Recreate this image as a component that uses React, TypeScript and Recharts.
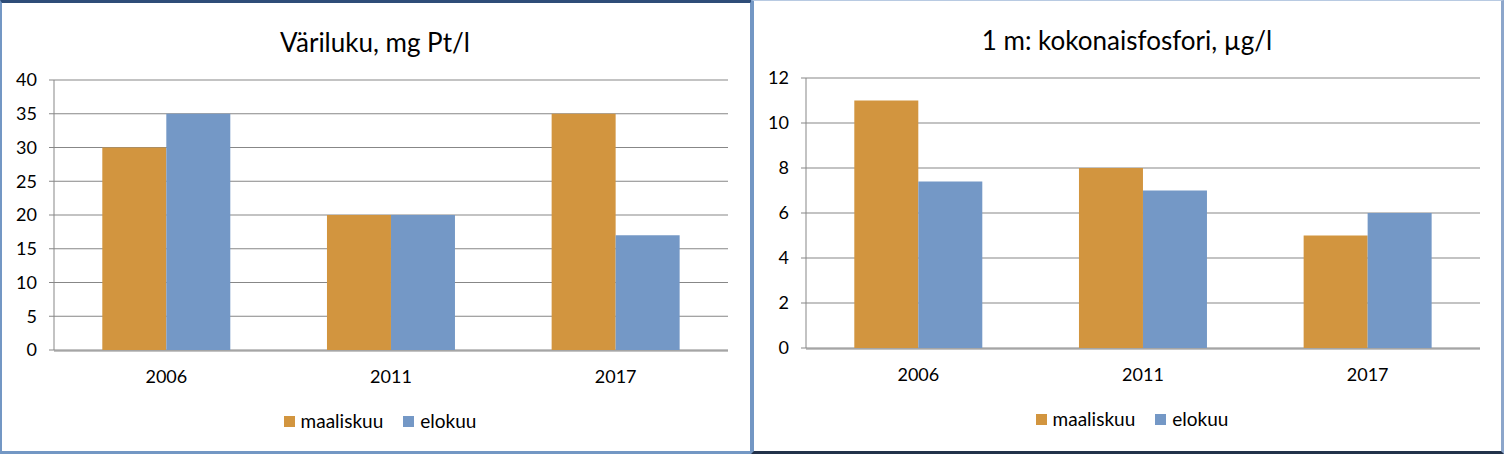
import React from 'react';
import { BarChart, Bar, XAxis, YAxis, CartesianGrid, Legend } from 'recharts';

const categories = ['2006', '2011', '2017'];
const seriesNames = ['maaliskuu', 'elokuu'];
const variMaaliskuu = [30, 20, 35];
const variElokuu = [35, 20, 17];
const variTicks = [0, 5, 10, 15, 20, 25, 30, 35, 40];
const fosMaaliskuu = [11, 8, 5];
const fosElokuu = [7.4, 7, 6];
const fosTicks = [0, 2, 4, 6, 8, 10, 12];
const boundaryTicks = [0, 1, 2, 3];

const ORANGE = '#D2953F';
const BLUE = '#7498C6';
const GRID = '#878787';
const FONT = 'Lato, "Open Sans", sans-serif';

const renderLegend = (props: any) => {
  const items = [...(props.payload || [])].sort(
    (a: any, b: any) => seriesNames.indexOf(a.value) - seriesNames.indexOf(b.value)
  );
  return (
    <div
      style={{
        display: 'flex',
        justifyContent: 'center',
        alignItems: 'center',
        fontFamily: FONT,
        fontSize: 19,
        color: '#000',
        lineHeight: '24px',
      }}
    >
      {items.map((p: any, i: number) => (
        <span key={i} style={{ display: 'inline-flex', alignItems: 'center', marginLeft: i ? 20 : 0 }}>
          <span style={{ width: 11, height: 11, background: p.color, marginRight: 6, display: 'inline-block' }} />
          {p.value}
        </span>
      ))}
    </div>
  );
};

function Panel(props: {
  title: string;
  m: number[];
  e: number[];
  ticks: number[];
  top: number;
  left: number;
}) {
  const { title, m, e, ticks, top, left } = props;
  const data = categories.map((c, i) => ({ year: c, m: m[i], e: e[i] }));
  const max = ticks[ticks.length - 1];
  return (
    <div style={{ position: 'absolute', left, top: 0, width: 750, height: 454 }}>
      <div
        style={{
          position: 'absolute',
          left: 0,
          width: 750,
          top: top - 56,
          textAlign: 'center',
          fontFamily: FONT,
          fontSize: 26,
          lineHeight: '36px',
          color: '#000',
        }}
      >
        {title}
      </div>
      <BarChart
        width={750}
        height={454}
        data={data}
        margin={{ top, right: 22, bottom: 454 - top - 270 - 2, left: 14 }}
        barCategoryGap="21.5%"
        barGap={0}
      >
        <CartesianGrid horizontal vertical={false} stroke={GRID} strokeWidth={1} />
        <XAxis
          xAxisId="b"
          type="number"
          domain={[0, 3]}
          ticks={boundaryTicks}
          tick={false}
          tickSize={7}
          height={1}
          axisLine={{ stroke: GRID }}
          tickLine={{ stroke: GRID }}
          allowDataOverflow
        />
        <XAxis
          dataKey="year"
          height={1}
          axisLine={false}
          tickLine={false}
          tickSize={0}
          tickMargin={20}
          tick={{ fill: '#000', fontSize: 18, fontFamily: FONT }}
        />
        <YAxis
          width={40}
          domain={[0, max]}
          ticks={ticks}
          tickSize={5}
          tickMargin={12}
          axisLine={{ stroke: GRID }}
          tickLine={{ stroke: GRID }}
          tick={{ fill: '#000', fontSize: 18, fontFamily: FONT }}
          interval={0}
        />
        <Legend
          verticalAlign="middle"
          align="center"
          layout="horizontal"
          content={renderLegend}
          wrapperStyle={{ top: top + 329, left: 0, width: 760 }}
        />
        <Bar dataKey="m" name={seriesNames[0]} fill={ORANGE} isAnimationActive={false} />
        <Bar dataKey="e" name={seriesNames[1]} fill={BLUE} isAnimationActive={false} />
      </BarChart>
    </div>
  );
}

export default function App() {
  return (
    <div style={{ position: 'absolute', left: 0, top: 0, width: 1504, height: 454, background: '#fff', overflow: 'hidden' }}>
      <Panel title="Väriluku, mg Pt/l" m={variMaaliskuu} e={variElokuu} ticks={variTicks} top={80} left={0} />
      <Panel title="1 m: kokonaisfosfori, µg/l" m={fosMaaliskuu} e={fosElokuu} ticks={fosTicks} top={78} left={752} />
      <div
        style={{
          position: 'absolute',
          left: 0,
          top: 0,
          width: 753,
          height: 454,
          boxSizing: 'border-box',
          borderLeft: '2px solid #7397C4',
          borderTop: '3px solid #2E4D78',
          borderRight: '3px solid #7397C4',
          borderBottom: '3px solid #7397C4',
          pointerEvents: 'none',
        }}
      />
      <div
        style={{
          position: 'absolute',
          left: 751,
          top: 0,
          width: 753,
          height: 454,
          boxSizing: 'border-box',
          borderLeft: '3px solid #7397C4',
          borderTop: '1px solid #B8CAE2',
          borderRight: '3px solid #8CA6CB',
          borderBottom: '3px solid #22324A',
          pointerEvents: 'none',
        }}
      />
    </div>
  );
}
